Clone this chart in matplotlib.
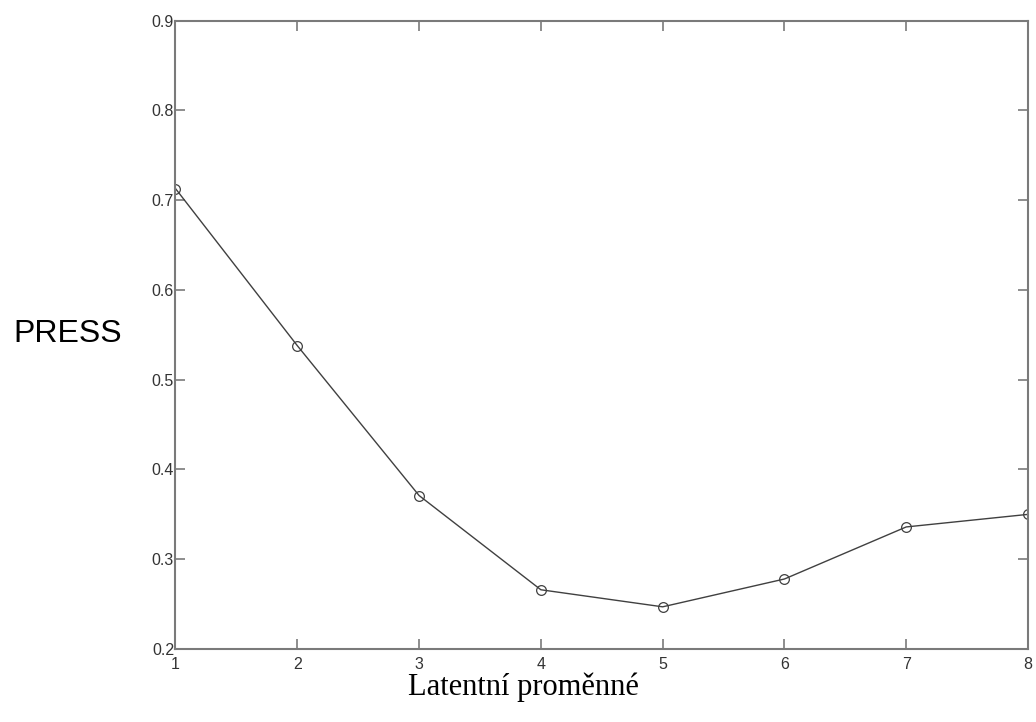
import matplotlib
matplotlib.use("Agg")
import matplotlib.pyplot as plt

# PRESS per number of latent variables
components = [1, 2, 3, 4, 5, 6, 7, 8]
press = [0.713, 0.538, 0.371, 0.266, 0.247, 0.278, 0.336, 0.350]
x_ticks = [1, 2, 3, 4, 5, 6, 7, 8]
y_ticks = [0.2, 0.3, 0.4, 0.5, 0.6, 0.7, 0.8, 0.9]
y_labels = ["0.2", "0.3", "0.4", "0.5", "0.6", "0.7", "0.8", "0.9"]

fig = plt.figure(figsize=(10.36, 7.22), dpi=100)
ax = fig.add_axes([0.1694, 0.1011, 0.8229, 0.8702])

ax.plot(components, press, color="#404040", linewidth=1.0,
        marker="o", markersize=7, markerfacecolor="none",
        markeredgecolor="#404040", markeredgewidth=0.9)

ax.set_xlim(1, 8)
ax.set_ylim(0.2, 0.9)
ax.set_xticks(x_ticks)
ax.set_yticks(y_ticks)
ax.set_yticklabels(y_labels)

for s in ax.spines.values():
    s.set_color("#7a7a7a")
    s.set_linewidth(1.5)

ax.tick_params(direction="in", length=7, width=1.2, color="#7a7a7a",
               top=True, right=True, labelsize=11.5, labelcolor="#333333")
ax.tick_params(axis="y", pad=1)
ax.tick_params(axis="x", pad=6)
for lab in ax.get_xticklabels() + ax.get_yticklabels():
    lab.set_family(["Liberation Sans", "DejaVu Sans"])

fig.text(0.013, 0.538, "PRESS", fontsize=23, family="Liberation Sans",
         ha="left", va="center", color="black")
fig.text(0.505, 0.037, "Latentní proměnné", fontsize=22,
         family="Liberation Serif", ha="center", va="baseline", color="black")

fig.savefig("out.png", dpi=100, facecolor="white")
